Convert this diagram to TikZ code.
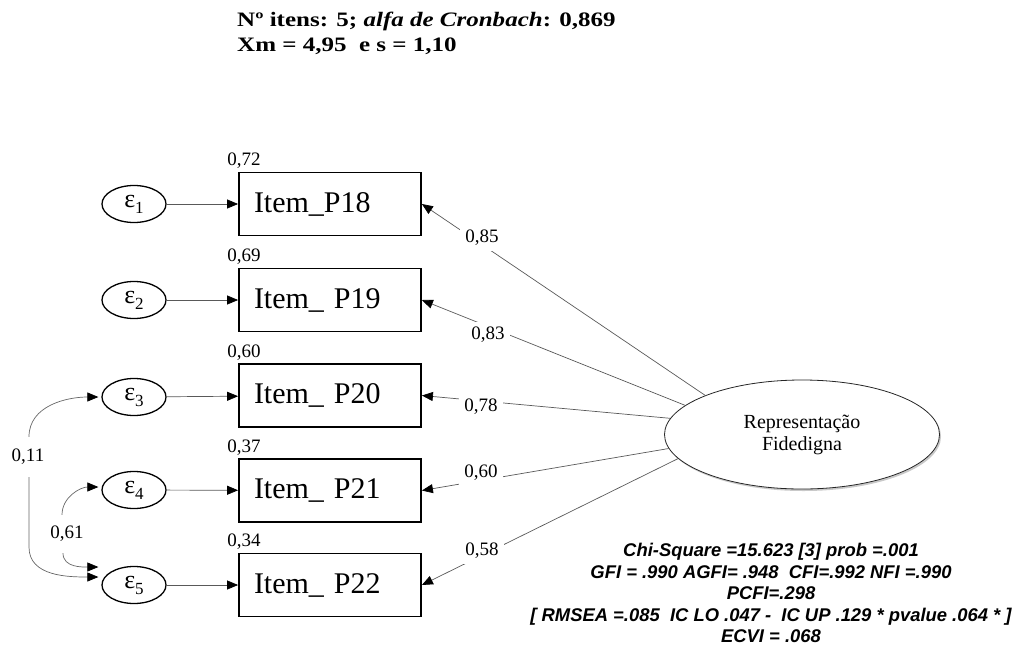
\documentclass[tikz,border=0pt]{standalone}
\usepackage{graphicx}
\usepackage{fontspec}
\setmainfont{Liberation Serif}
\newfontfamily\arialfont{Liberation Sans}
\usetikzlibrary{arrows.meta,shapes.geometric,shadows,calc}

\begin{document}
\begin{tikzpicture}[x=1pt,y=-1pt,
  tri/.tip={Triangle[length=11pt,width=9pt,color=black]},
  item/.style={draw, line width=1.8pt, minimum height=63pt, text width=152pt,
    inner xsep=15pt, inner ysep=0pt, align=left,
    font=\fontsize{30}{30}\selectfont},
  err/.style={ellipse, draw, line width=1.3pt, minimum width=64pt,
    minimum height=37pt, inner sep=0pt},
  factor/.style={ellipse, draw=black!85, line width=0.8pt, fill=white,
    minimum width=275pt, minimum height=109pt, inner sep=0pt, align=center,
    font=\fontsize{20}{22}\selectfont,
    drop shadow={shadow xshift=1.5pt, shadow yshift=-2pt, opacity=0.3, fill=black!70}},
  num/.style={font=\fontsize{19}{19}\selectfont, inner sep=0pt},
  lbl/.style={num, fill=white, inner sep=5pt},
  res/.style={draw=black!65, line width=0.7pt, -tri},
  load/.style={draw=black!65, line width=0.7pt, -tri},
  cov/.style={draw=black!60, line width=0.7pt},
  title/.style={font=\bfseries\fontsize{20.5}{24}\selectfont, inner sep=0pt},
  fit/.style={font=\arialfont\bfseries\itshape\fontsize{18.4}{21.5}\selectfont,
    align=center, inner sep=0pt}]
\useasboundingbox (0,0) rectangle (1019,645);

% heading (set slightly widened)
\node[title, anchor=base west] (t1) at (237,26)
  {\scalebox{1.22}[1]{Nº itens: 5; \textit{alfa de Cronbach}: 0,869}};
\node[title, anchor=base west] (t2) at (237,51)
  {\scalebox{1.22}[1]{Xm = 4,95\ \ e s = 1,10}};

% observed items
\node[item] (b1) at (330,204)   {Item\_P18};
\node[item] (b2) at (330,300)   {Item\_ P19};
\node[item] (b3) at (330,395.5) {Item\_ P20};
\node[item] (b4) at (330,490.5) {Item\_ P21};
\node[item] (b5) at (330,585)   {Item\_ P22};

% squared multiple correlations
\node[num, anchor=base west] (r1) at ($(b1.north west)+(-11,-6)$) {0,72};
\node[num, anchor=base west] (r2) at ($(b2.north west)+(-11,-6)$) {0,69};
\node[num, anchor=base west] (r3) at ($(b3.north west)+(-11,-6)$) {0,60};
\node[num, anchor=base west] (r4) at ($(b4.north west)+(-11,-6)$) {0,37};
\node[num, anchor=base west] (r5) at ($(b5.north west)+(-11,-6)$) {0,34};

% error terms
\newcommand{\errlab}[1]{{\fontsize{26}{26}\selectfont ε}\raisebox{-6pt}{\fontsize{17}{17}\selectfont #1}}
\node[err] (e1) at (134,204) {\errlab{1}};
\node[err] (e2) at (134,300) {\errlab{2}};
\node[err] (e3) at (134,397) {\errlab{3}};
\node[err] (e4) at (134,490) {\errlab{4}};
\node[err] (e5) at (134,585) {\errlab{5}};

\foreach \i in {1,...,5} \draw[res] (e\i) -- (b\i);

% latent factor
\node[factor] (F) at (802,434.5) {Representação\\Fidedigna};

% factor loadings
\draw[load] (F.158)   -- (b1.east);
\draw[load] (F.166.8) -- (b2.east);
\draw[load] (F.173.6) -- (b3.east);
\draw[load] (F.186.4) -- (b4.east);
\draw[load] (F.191.8) -- (b5.east);
\node[lbl] (l1) at (482,238) {0,85};
\node[lbl] (l2) at (488,335) {0,83};
\node[lbl] (l3) at (481,407) {0,78};
\node[lbl] (l4) at (481,473) {0,60};
\node[lbl] (l5) at (482,551) {0,58};

% error covariances
\node[num, minimum height=40pt] (c1) at (28,457) {0,11};
\node[num, minimum height=38pt] (c2) at (67,534) {0,61};
\draw[cov, tri-] ($(e3.west)+(-3,0)$) to[out=180,in=90] ($(c1.north)+(1,0)$);
\draw[cov, -tri] ($(c1.south)+(1,0)$) -- ++(0,70)
  to[out=-90,in=180] ($(e5.west)+(-3,-8)$);
\draw[cov, tri-] ($(e4.west)+(-3,-3)$) to[out=180,in=90] ($(c2.north)+(-5,0)$);
\draw[cov, -tri] ($(c2.south)+(-4,0)$) to[out=-90,in=180] ($(e5.west)+(-3,-18)$);

% fit indices
\node[fit] (fitidx) at (771,593)
  {Chi-Square =15.623 [3] prob =.001\\
   GFI = .990 AGFI= .948\ \ CFI=.992 NFI =.990\\
   PCFI=.298\\
   {[} RMSEA =.085\ \ IC LO .047 -\ \ IC UP .129 * pvalue .064 * ]\\
   ECVI = .068};
\end{tikzpicture}
\end{document}
